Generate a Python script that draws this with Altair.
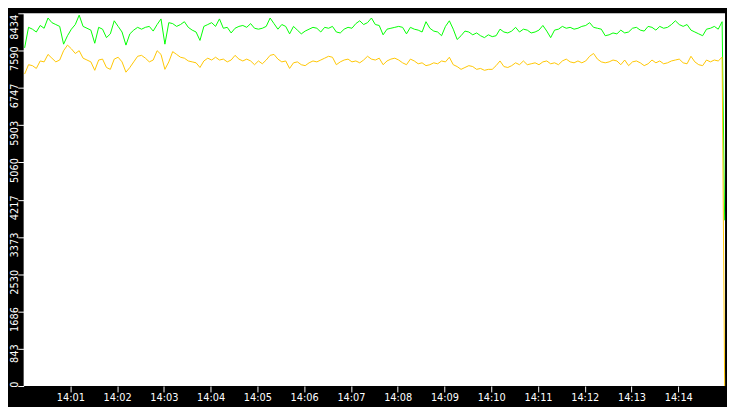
import altair as alt
import pandas as pd

GREEN = [
    7652, 8117, 8075, 8011, 8159, 8096, 8328, 8223, 8180, 8138,
    7736, 7927, 8075, 8180, 8392, 8138, 8096, 8054, 7757, 8117,
    8075, 7884, 7969, 8265, 8138, 8011, 7715, 7969, 8054, 8117,
    8075, 8117, 8138, 8032, 8180, 8307, 7736, 8223, 8201, 8138,
    8180, 8244, 8117, 8054, 8011, 7821, 8138, 8180, 8223, 8138,
    8307, 8096, 8117, 7990, 8096, 8138, 8159, 8117, 8201, 8096,
    8075, 8096, 8138, 8328, 8201, 8075, 8180, 8138, 7969, 8138,
    8054, 7969, 8032, 8075, 8117, 8096, 8011, 8117, 8096, 8138,
    8011, 7990, 8075, 8117, 8096, 8201, 8265, 8180, 8223, 8328,
    8180, 8159, 7948, 8075, 8096, 8117, 8138, 8117, 7969, 8117,
    8075, 8054, 8011, 8244, 8096, 8032, 8011, 7927, 8138, 8265,
    8075, 7842, 7927, 8032, 8011, 7948, 7990, 7927, 7884, 7948,
    7906, 7927, 8075, 8011, 7990, 8032, 8117, 8011, 8075, 8054,
    7990, 8011, 8054, 8159, 8032, 7884, 8054, 8075, 8138, 8096,
    8117, 8075, 8096, 8138, 8159, 8223, 8117, 8096, 8075, 7927,
    7948, 7990, 7969, 8054, 7990, 8011, 8096, 8117, 8054, 8032,
    8138, 8117, 8054, 8138, 8096, 8117, 8180, 8265, 8180, 8138,
    8180, 8054, 8011, 7969, 7927, 8075, 8096, 8138, 8075, 8244,
]
YELLOW = [
    7060, 7271, 7250, 7187, 7356, 7335, 7504, 7419, 7335, 7377,
    7588, 7715, 7631, 7525, 7588, 7419, 7377, 7335, 7144, 7377,
    7398, 7208, 7166, 7398, 7440, 7335, 7102, 7208, 7335, 7462,
    7483, 7419, 7335, 7377, 7588, 7504, 7166, 7335, 7567, 7504,
    7440, 7419, 7356, 7335, 7314, 7208, 7356, 7419, 7377, 7440,
    7377, 7398, 7335, 7377, 7483, 7398, 7356, 7398, 7356, 7271,
    7356, 7292, 7377, 7483, 7504, 7398, 7335, 7356, 7187, 7314,
    7335, 7271, 7250, 7314, 7356, 7335, 7377, 7419, 7462, 7440,
    7271, 7335, 7377, 7398, 7335, 7356, 7314, 7377, 7462, 7398,
    7377, 7419, 7271, 7356, 7398, 7419, 7377, 7314, 7271, 7398,
    7356, 7292, 7314, 7250, 7271, 7314, 7292, 7356, 7335, 7440,
    7271, 7229, 7166, 7208, 7250, 7229, 7166, 7187, 7144, 7166,
    7166, 7250, 7356, 7229, 7208, 7250, 7314, 7271, 7356, 7271,
    7292, 7314, 7271, 7335, 7356, 7292, 7314, 7271, 7356, 7398,
    7335, 7314, 7356, 7314, 7356, 7462, 7525, 7398, 7335, 7314,
    7335, 7377, 7356, 7271, 7377, 7250, 7335, 7356, 7314, 7250,
    7292, 7377, 7314, 7356, 7292, 7314, 7356, 7377, 7398, 7314,
    7292, 7462, 7335, 7271, 7250, 7377, 7335, 7377, 7356, 7440,
]
GREEN_END = 3750
YELLOW_END = 0
START_S = 1.25      # seconds after 14:00:00 of first sample
STEP_S = 5          # sampling step, seconds
END_S = 899.5       # time of the final drop

Y_TICKS = [0, 843, 1686, 2530, 3373, 4217, 5060, 5903, 6747, 7590, 8434]
X_TICKS = [60, 120, 180, 240, 300, 360, 420, 480, 540, 600, 660, 720, 780, 840]
X_LABELS = ["14:01", "14:02", "14:03", "14:04", "14:05", "14:06", "14:07",
            "14:08", "14:09", "14:10", "14:11", "14:12", "14:13", "14:14"]

GREEN_COLOR = "#00ff00"
YELLOW_COLOR = "#ffc600"

times = [START_S + STEP_S * i for i in range(len(GREEN))] + [END_S]
df = pd.DataFrame({
    "t": times,
    "green": GREEN + [GREEN_END],
    "yellow": YELLOW + [YELLOW_END],
})

label_arr = "[" + ",".join("'%s'" % s for s in X_LABELS) + "]"
x_axis = alt.Axis(
    values=X_TICKS,
    labelExpr=label_arr + "[round(datum.value / 60) - 1]",
    title=None, domain=False, grid=False,
    tickSize=6, tickColor="white", tickWidth=1,
    labelColor="white", labelFont="DejaVu Sans", labelFontSize=10,
    labelPadding=1, labelFlush=False, labelOverlap=False,
    minExtent=16, maxExtent=16,
)
y_axis = alt.Axis(
    values=Y_TICKS, format="d",
    title=None, domain=False, grid=False,
    tickSize=6, tickColor="white", tickWidth=1,
    labelColor="white", labelFont="DejaVu Sans", labelFontSize=10,
    labelAngle=270, labelAlign="right", labelBaseline="alphabetic",
    labelPadding=0,
    labelOffset={"condition": {"test": "datum.value >= 8000", "value": 1}, "value": -5},
    labelFlush=False, labelOverlap=False,
    minExtent=16, maxExtent=16,
)
x_scale = alt.Scale(domain=[0, 900], nice=False, zero=False)
y_scale = alt.Scale(domain=[0, 8434], nice=False)

base = alt.Chart(df)
g_line = base.mark_line(color=GREEN_COLOR, strokeWidth=1).encode(
    x=alt.X("t:Q", scale=x_scale, axis=x_axis),
    y=alt.Y("green:Q", scale=y_scale, axis=y_axis),
)
y_line = base.mark_line(color=YELLOW_COLOR, strokeWidth=1).encode(
    x=alt.X("t:Q", scale=x_scale, axis=x_axis),
    y=alt.Y("yellow:Q", scale=y_scale, axis=y_axis),
)

chart = alt.layer(g_line, y_line).properties(
    width=735, height=399,
    autosize=alt.AutoSizeParams(type="fit", contains="padding"),
    padding=0,
    background="black",
).configure_view(fill="white", strokeWidth=0)

chart.save("out.html", embed_options={"renderer": "svg", "actions": False})
